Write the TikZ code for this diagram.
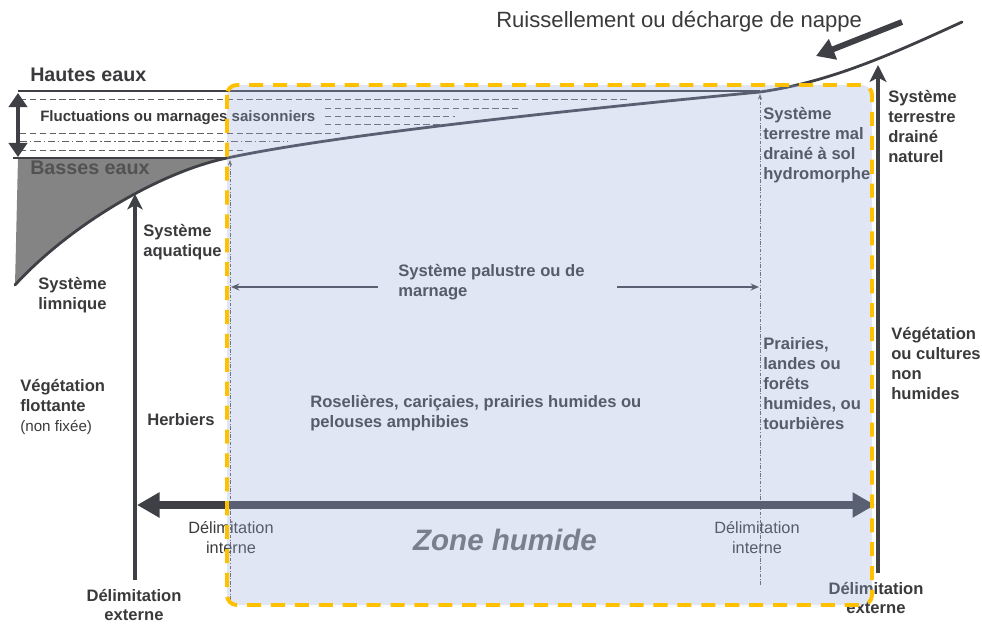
\documentclass[tikz,border=0pt]{standalone}
\usepackage{fontspec}
\setmainfont{Liberation Sans}
\usetikzlibrary{arrows.meta}

\definecolor{inkdark}{RGB}{58,58,60}
\definecolor{inkline}{RGB}{62,64,70}
\definecolor{dashgray}{RGB}{95,95,100}
\definecolor{fillgray}{RGB}{132,132,132}
\definecolor{zoneblue}{RGB}{152,172,215}
\definecolor{zoneorange}{RGB}{255,192,0}
\definecolor{zonetext}{RGB}{108,108,110}

\tikzset{
  lbl/.style={font=\bfseries\fontsize{11.8}{14.2}\selectfont, text=inkdark, align=left, anchor=north west, inner sep=0pt},
  delimint/.style={font=\fontsize{11.6}{14.2}\selectfont, text=inkdark, align=center, inner sep=0pt},
  delimext/.style={font=\bfseries\fontsize{11.8}{13.4}\selectfont, text=inkdark, align=center, inner sep=0pt},
  level/.style={draw=inkline, line width=1.6pt},
  fluct/.style={draw=dashgray, line width=0.6pt, dash pattern=on 4.5pt off 2.5pt},
  limit/.style={draw=dashgray, line width=0.5pt, dash pattern=on 2.5pt off 1.2pt on 0.6pt off 1.2pt},
}

\begin{document}
\begin{tikzpicture}[x=0.025cm, y=-0.025cm]

  \useasboundingbox (0,0) rectangle (982,625);

  \fill[fillgray] (18,158) -- (227,158) .. controls (160,172) and (70,225) .. (15,285) -- cycle;

  \draw[level] (18,91) -- (760,91);
  \draw[level] (13,158) -- (227,158);

  \draw[fluct] (20,99) -- (627,99);
  \draw[fluct] (325,108) -- (518,108);
  \draw[fluct] (325,116) -- (455,116);
  \draw[fluct] (325,124) -- (450,124);
  \draw[fluct] (20,133) -- (340,133);
  \draw[fluct, dash pattern=on 5pt off 2pt on 1pt off 2pt] (20,141) -- (288,141);
  \draw[fluct] (20,150) -- (243,150);

  \draw[draw=inkline, line width=2pt, line cap=round] (15,285) .. controls (70,225) and (160,172) .. (227,158)
        .. controls (330,136) and (550,112) .. (760,92)
        .. controls (830,82) and (890,55) .. (962,22);

  \draw[limit, -{Stealth[length=4pt,width=3pt]}] (230,600) -- (230,160);
  \draw[limit, -{Stealth[length=4pt,width=3pt]}] (760,585) -- (760,94);

  \draw[draw=inkline, line width=3pt, {Triangle[length=10pt,width=13pt]}-{Triangle[length=10pt,width=13pt]}] (18,93) -- (18,157);

  \draw[draw=inkline, line width=2.2pt, -{Stealth[length=11pt,width=11pt,inset=3pt]}] (135,580) -- (135,194);
  \draw[draw=inkline, line width=2.8pt, -{Stealth[length=12pt,width=12pt,inset=3pt]}] (878,573) -- (878,65);
  \draw[draw=inkline, line width=4.2pt, -{Triangle[length=13pt,width=15pt]}] (902,22) -- (816,56);

  \draw[draw=inkline, line width=5.8pt, {Triangle[length=16pt,width=17pt]}-{Triangle[length=16pt,width=17pt]}] (137,505) -- (875,505);

  \draw[draw=inkline, line width=1.3pt, -{Stealth[length=6pt,width=5pt]}] (378,287) -- (231,287);
  \draw[draw=inkline, line width=1.3pt, -{Stealth[length=6pt,width=5pt]}] (617,287) -- (759,287);

  \node[font=\fontsize{15.7}{18}\selectfont, text=inkdark, anchor=base west, inner sep=0pt] (nappe) at (496,27) {Ruissellement ou décharge de nappe};
  \node[font=\bfseries\fontsize{14}{16}\selectfont, text=inkdark, anchor=west, inner sep=0pt] (hautes) at (30,75) {Hautes eaux};
  \node[font=\bfseries\fontsize{14}{16}\selectfont, text={rgb,255:red,82;green,82;blue,84}, anchor=west, inner sep=0pt] (basses) at (30,168) {Basses eaux};
  \node[font=\bfseries\fontsize{10.7}{13}\selectfont, text=inkdark, anchor=west, inner sep=0pt] (fluctu) at (40,118) {Fluctuations ou marnages saisonniers};

  \node[lbl] (aquat) at (143,224) {Système\\aquatique};
  \node[lbl] (limni) at (38,277) {Système\\limnique};
  \node[lbl] (flott) at (20,379) {Végétation\\flottante\\{\mdseries\fontsize{10.8}{14.2}\selectfont(non fixée)}};
  \node[lbl] (herbi) at (147,413) {Herbiers};
  \node[lbl] (palus) at (398,264) {Système palustre ou de\\marnage};
  \node[lbl] (rosel) at (310,395) {Roselières, cariçaies, prairies humides ou\\pelouses amphibies};
  \node[lbl] (terrmal) at (763,107) {Système\\terrestre mal\\drainé à sol\\hydromorphe};
  \node[lbl] (prair) at (763,337) {Prairies,\\landes ou\\forêts\\humides, ou\\tourbières};
  \node[lbl] (terrnat) at (888,90) {Système\\terrestre\\drainé\\naturel};
  \node[lbl] (nonhum) at (891,327) {Végétation\\ou cultures\\non\\humides};

  \node[delimint] (intg) at (231,538) {Délimitation\\interne};
  \node[delimint] (intd) at (757,538) {Délimitation\\interne};
  \node[delimext] (extg) at (134,605) {Délimitation\\externe};
  \node[delimext] (extd) at (876,598) {Délimitation\\externe};

  \node[font=\bfseries\itshape\fontsize{21}{24}\selectfont, text=zonetext, inner sep=0pt] (zone) at (505,540) {Zone humide};

  \fill[zoneblue, fill opacity=0.3, rounded corners=7pt] (227,85) rectangle (872,605);
  \draw[zoneorange, line width=2.8pt, dash pattern=on 10pt off 7pt, rounded corners=7pt] (227,85) rectangle (872,605);

\end{tikzpicture}
\end{document}
